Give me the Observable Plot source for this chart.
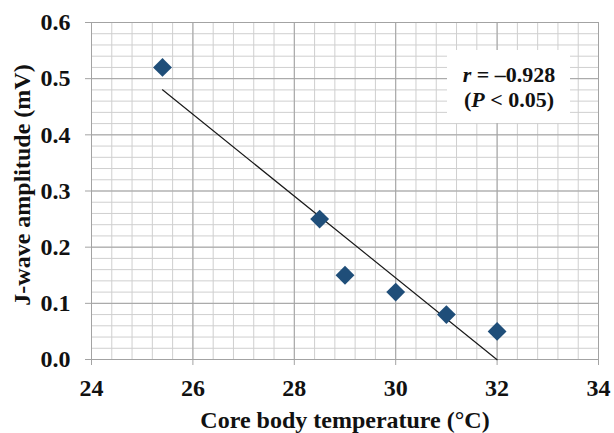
<!DOCTYPE html>
<html>
<head>
<meta charset="utf-8">
<script src="https://cdn.jsdelivr.net/npm/d3@7"></script>
<script src="https://cdn.jsdelivr.net/npm/@observablehq/plot@0.6"></script>
<style>
  html, body { margin: 0; padding: 0; background: #fff; }
</style>
</head>
<body>
<div id="chart"></div>
<script>
// Data
const temperature = [25.4, 28.5, 29, 30, 31, 32];
const amplitude   = [0.52, 0.25, 0.15, 0.12, 0.08, 0.05];
const xTicks = [24, 26, 28, 30, 32, 34];
const yTicks = [0, 0.1, 0.2, 0.3, 0.4, 0.5, 0.6];
const xTitle = "Core body temperature (°C)";
const yTitle = "J-wave amplitude (mV)";
const statLine1 = ["r", " = –0.928"];
const statLine2 = ["(", "P", " < 0.05)"];

const data = temperature.map((t, i) => ({t, a: amplitude[i]}));
const minorX = d3.range(24, 34.001, 0.4);
const minorY = d3.range(0, 0.6001, 0.02);
const serif = "'Liberation Serif', 'Times New Roman', serif";
const W = 614, H = 433, mL = 91, mR = 16, mT = 22, mB = 74;
const fmtY = d3.format(".1f");

const chart = Plot.plot({
  width: W, height: H,
  marginLeft: mL, marginRight: mR, marginTop: mT, marginBottom: mB,
  style: {fontFamily: serif, background: "#fff"},
  x: {domain: [24, 34]},
  y: {domain: [0, 0.6]},
  marks: [
    Plot.ruleX(minorX, {stroke: "#cfcfcf", strokeWidth: 1}),
    Plot.ruleY(minorY, {stroke: "#cfcfcf", strokeWidth: 1}),
    Plot.ruleX(xTicks, {stroke: "#a3a3a3", strokeWidth: 1}),
    Plot.ruleY(yTicks, {stroke: "#a3a3a3", strokeWidth: 1}),
    // tick marks only (labels drawn as text marks below)
    Plot.axisX(xTicks, {tickSize: 6, stroke: "#a3a3a3", label: null, tickFormat: () => ""}),
    Plot.axisY(yTicks, {tickSize: 6, stroke: "#a3a3a3", label: null, tickFormat: () => ""}),
    // tick labels
    Plot.text(xTicks, {x: d => d, text: d => String(d), frameAnchor: "bottom", lineAnchor: "top",
      textAnchor: "middle", dy: 19, fontSize: 24, fontWeight: "bold", fill: "#111"}),
    Plot.text(yTicks, {y: d => d, text: d => fmtY(d), frameAnchor: "left", lineAnchor: "middle",
      textAnchor: "end", dx: -21, fontSize: 24, fontWeight: "bold", fill: "#111"}),
    Plot.linearRegressionY(data, {x: "t", y: "a", ci: 0, stroke: "#1a1a1a", strokeWidth: 1.2}),
    Plot.dot(data, {x: "t", y: "a", symbol: "diamond2", r: 8.5, fill: "#1f4e79"}),
    Plot.text([xTitle], {frameAnchor: "bottom", lineAnchor: "middle", textAnchor: "middle", dy: 61,
      fontSize: 24, fontWeight: "bold", fill: "#111"}),
    Plot.text([yTitle], {frameAnchor: "left", lineAnchor: "middle", textAnchor: "middle", rotate: -90, dx: -69, dy: -6,
      fontSize: 24, fontWeight: "bold", fill: "#111"})
  ]
});
document.getElementById("chart").appendChild(chart);

// Annotation box with r and P statistics (positioned relative to the plot frame)
const svg = d3.select(chart);
const frameRight = W - mR;
const boxW = 123, boxH = 73;
const boxX = frameRight - 28 - boxW, boxY = mT + 28;
const ann = svg.append("g").attr("font-family", serif);
ann.append("rect").attr("x", boxX).attr("y", boxY).attr("width", boxW).attr("height", boxH).attr("fill", "white");
const cx = boxX + boxW / 2 + 0.5;
const t1 = ann.append("text").attr("x", cx).attr("y", boxY + 32).attr("text-anchor", "middle")
  .attr("font-size", 22).attr("font-weight", "bold").attr("fill", "#111");
t1.append("tspan").attr("font-style", "italic").text(statLine1[0]);
t1.append("tspan").text(statLine1[1]);
const t2 = ann.append("text").attr("x", cx).attr("y", boxY + 57).attr("text-anchor", "middle")
  .attr("font-size", 22).attr("font-weight", "bold").attr("fill", "#111");
t2.append("tspan").text(statLine2[0]);
t2.append("tspan").attr("font-style", "italic").text(statLine2[1]);
t2.append("tspan").text(statLine2[2]);
</script>
</body>
</html>
